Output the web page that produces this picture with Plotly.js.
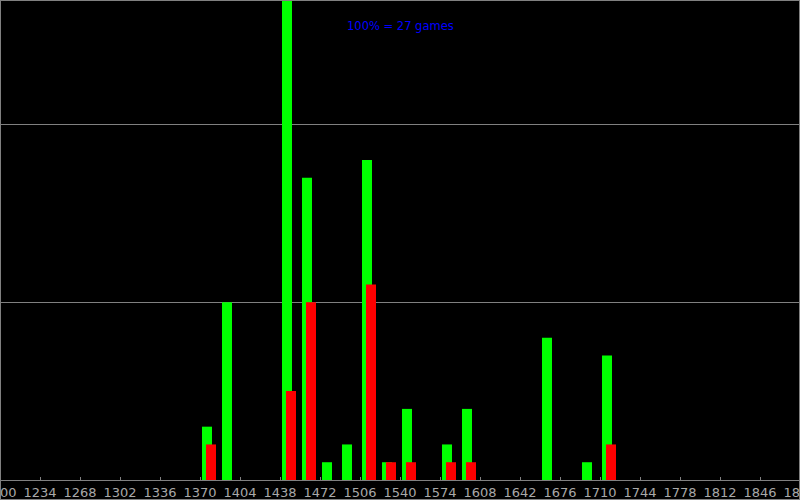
<!DOCTYPE html>
<html>
<head>
<meta charset="utf-8">
<script src="https://cdn.plot.ly/plotly-3.0.1.min.js"></script>
<style>
  html, body { margin: 0; padding: 0; background: #000; }
  #wrap { position: relative; width: 800px; height: 500px; }
  #chart { width: 800px; height: 500px; }
  #frame { position: absolute; left: 0; top: 0; width: 800px; height: 500px; box-sizing: border-box; border: 1px solid #808080; pointer-events: none; }
</style>
</head>
<body>
<div id="wrap"><div id="chart"></div><div id="frame"></div></div>
<script>
// Rating bins (start of each 17-point bin)
const bins = [1370, 1387, 1438, 1455, 1472, 1489, 1506, 1523, 1540, 1574, 1591, 1659, 1693, 1710];
// Games in each bin (green = all games, red = second series)
const greenGames = [3, 10, 27, 17, 1, 2, 18, 1, 4, 2, 4, 8, 1, 7];
const redGames   = [2, 0, 5, 10, 0, 0, 11, 1, 1, 1, 1, 0, 0, 2];
const maxGames = 27;
const tickStart = 1200, tickStep = 34, xMax = 1880;

const binWidth = 17;
const barW = binWidth * 0.5;
const greenX = bins.map(b => b + binWidth * 0.35);
const redX = bins.map(b => b + binWidth * 0.55);

const traces = [
  { type: 'bar', x: greenX, y: greenGames, width: barW, marker: { color: '#00ff00', line: { width: 0 } }, hoverinfo: 'none' },
  { type: 'bar', x: redX, y: redGames, width: barW, marker: { color: '#ff0000', line: { width: 0 } }, hoverinfo: 'none' }
];

const layout = {
  width: 800, height: 500,
  margin: { l: 0, r: 0, t: 0, b: 20, pad: 0 },
  paper_bgcolor: '#000', plot_bgcolor: '#000',
  showlegend: false,
  barmode: 'overlay',
  font: { family: 'DejaVu Sans', size: 12, color: '#a0a0a0' },
  xaxis: {
    range: [tickStart, xMax], tick0: tickStart, dtick: tickStep, tickmode: 'linear',
    showgrid: false, zeroline: false,
    showline: true, linecolor: '#808080', linewidth: 1,
    ticks: 'inside', ticklen: 3, tickcolor: '#808080', tickwidth: 1,
    ticklabeloverflow: 'allow',
    tickfont: { family: 'DejaVu Sans', size: 13, color: '#a8a8a8' },
    fixedrange: true
  },
  yaxis: {
    range: [0, maxGames], tick0: 0, dtick: 10, tickmode: 'linear',
    showgrid: true, gridcolor: '#808080', gridwidth: 1,
    zeroline: false, showticklabels: false, ticks: '', showline: false,
    fixedrange: true
  },
  annotations: [{
    xref: 'paper', yref: 'paper', x: 0.5, y: 1 - 26 / 480,
    text: '100% = ' + maxGames + ' games', showarrow: false,
    font: { family: 'DejaVu Sans', size: 11.5, color: '#0000ff' },
    xanchor: 'center', yanchor: 'middle'
  }]
};

Plotly.newPlot('chart', traces, layout, { displayModeBar: false, staticPlot: true });
</script>
</body>
</html>
